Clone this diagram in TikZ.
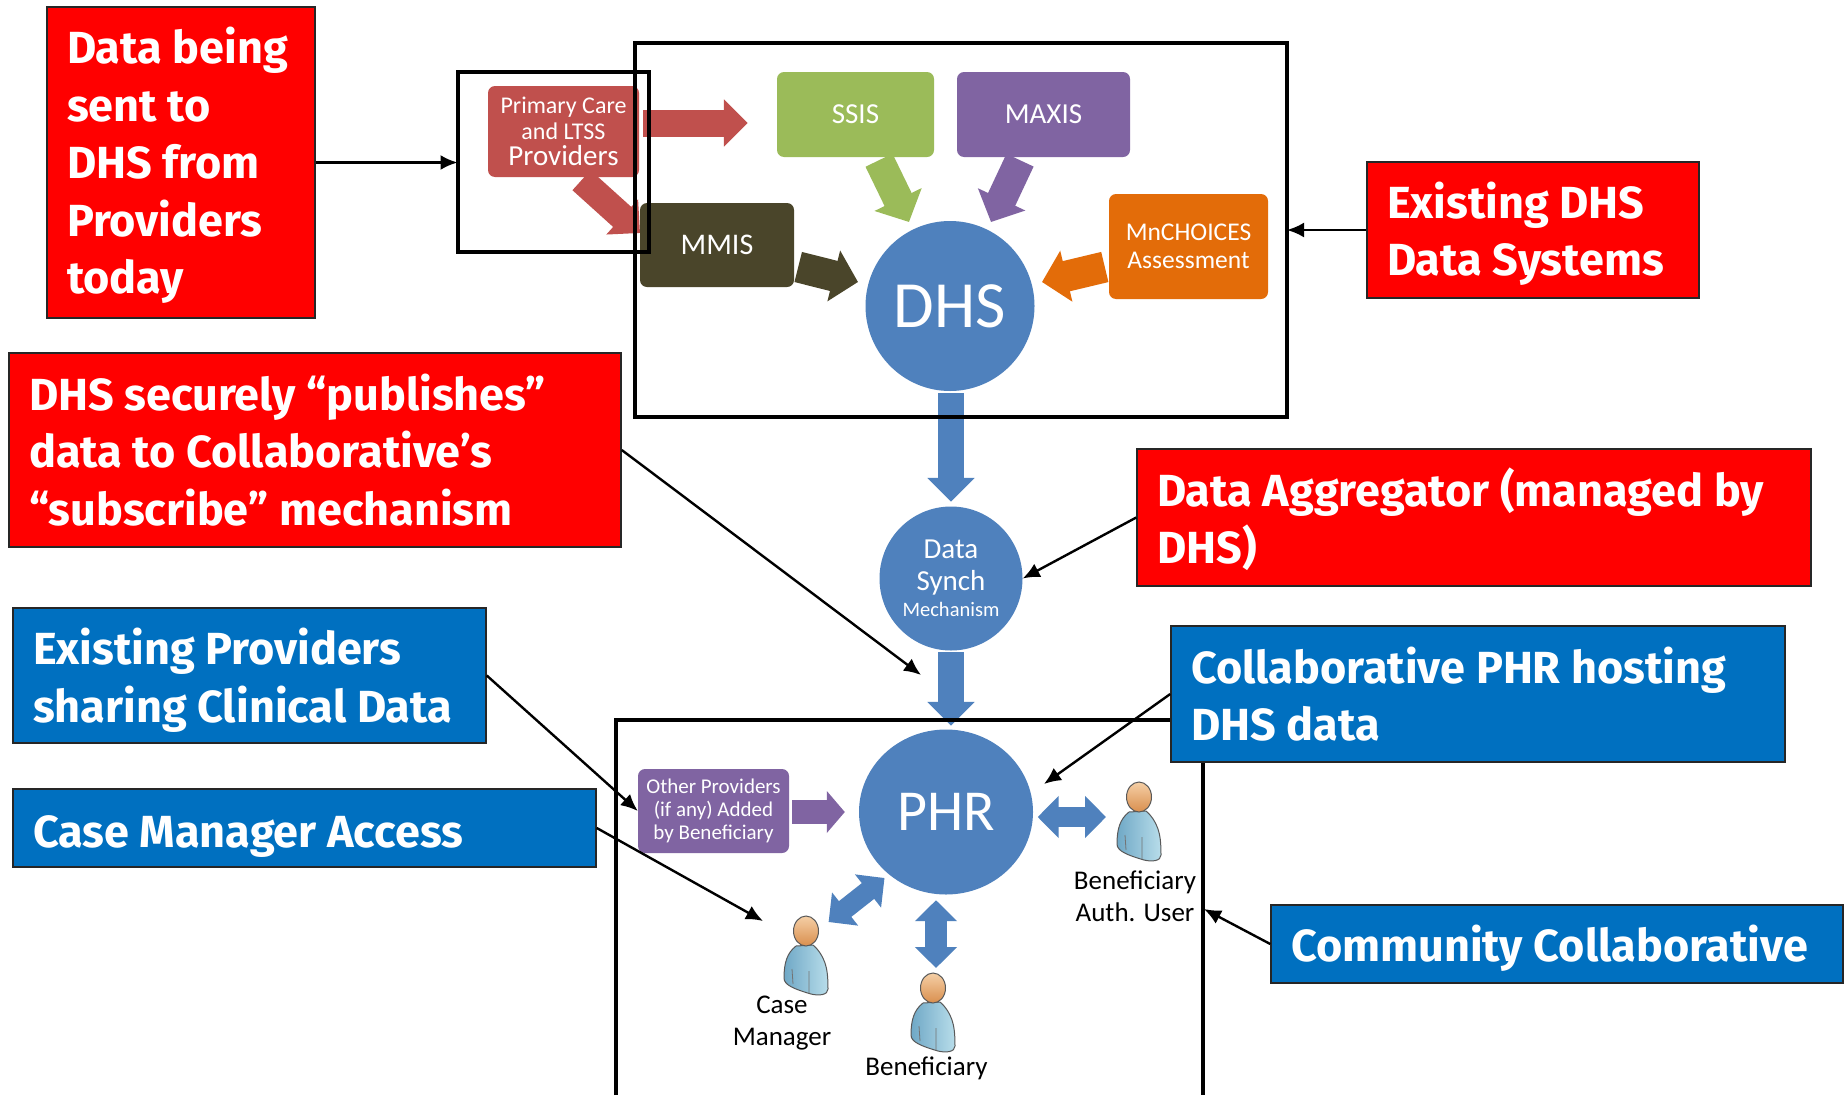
\documentclass[tikz,border=0pt]{standalone}
\usepackage{fontspec}
\setmainfont{Carlito}
\newfontfamily\bigfont{Fira Sans}
\usetikzlibrary{arrows.meta,shapes.geometric,calc}
\newcommand\fsz[2]{\fontsize{#1pt}{#2pt}\selectfont}
\newcommand\bigstyle{\bigfont\bfseries\fsz{45}{57.5}\hyphenpenalty=10000\relax\exhyphenpenalty=10000\relax}
\newcommand\dropby[1]{\rule{0pt}{#1pt}}
\definecolor{cred}{HTML}{C0504D}
\definecolor{cgreen}{HTML}{9BBB59}
\definecolor{cpurple}{HTML}{8064A2}
\definecolor{colive}{HTML}{4A452A}
\definecolor{corange}{HTML}{E36C09}
\definecolor{cblue}{HTML}{4F81BD}
\definecolor{lblue}{HTML}{0070C0}
\definecolor{bodydark}{HTML}{6FA8C6}
\definecolor{bodylight}{HTML}{B8DDEA}
\definecolor{headlight}{HTML}{F5CFA6}
\definecolor{headdark}{HTML}{D98F4E}
\tikzset{
  sbox/.style={rounded corners=7pt,inner sep=0pt,text=white,align=center},
  disc/.style={ellipse,fill=cblue,inner sep=0pt,text=white,align=center},
  label box/.style={draw=black!85,line width=1.5pt,inner sep=0pt,text=white,align=flush left,
     font=\bigstyle},
  redlab/.style={label box,fill=red},
  bluelab/.style={label box,fill=lblue},
  fat/.style={line width=#1,line cap=butt},
  tip/.style={-{Triangle[length=24pt,width=46pt]}},
  widetip/.style={-{Triangle[length=25pt,width=51pt]}},
  twotip/.style={{Triangle[length=21pt,width=41pt]}-{Triangle[length=21pt,width=41pt]}},
  zone/.style={draw=black,line width=4pt},
  pointer/.style={draw=black,line width=2.4pt,-{Latex[length=17pt,width=15pt]}},
  ptext/.style={text=black,align=center,inner sep=0pt,font=\fsz{27}{31.5}},
}
\newcommand\person[3]{%
  \coordinate (#1) at (#2,#3);
  \begin{scope}[shift={(#2,#3)}]
    \path[draw=black!65,line width=1pt,left color=bodydark,right color=bodylight]
      (-10,15) .. controls (-19,22) and (-22,32) .. (-22,47)
      .. controls (-22,54) and (-12,58) .. (5,63)
      .. controls (13,65) and (22,64) .. (22,58)
      .. controls (22,45) and (21,38) .. (19,32)
      .. controls (16,24) and (12,18) .. (7,14) -- cycle;
    \draw[black!55,line width=.8pt] (-14,38) -- (-13,53) (3,40) -- (3,62);
    \path[draw=black!65,line width=1pt,top color=headlight,bottom color=headdark]
      (0,0) ellipse [x radius=12.5,y radius=15];
  \end{scope}}
\begin{document}
\begin{tikzpicture}[x=1pt,y=-1pt]
\useasboundingbox[fill=white] (0,0) rectangle (1844,1095);
% upper nodes
\node[sbox,fill=cred,minimum width=151pt,minimum height=91pt,font=\fsz{24}{26}] (prov) at (563.5,131.5)
   {Primary Care\\and LTSS\\{\fsz{29}{30}Providers}};
\node[sbox,fill=cgreen,minimum width=157pt,minimum height=85pt,font=\fsz{29}{30}] (ssis) at (855.5,114.5) {SSIS};
\node[sbox,fill=cpurple,minimum width=173pt,minimum height=85pt,font=\fsz{29}{30}] (maxis) at (1043.5,114.5) {MAXIS};
\node[disc,minimum width=169pt,minimum height=170pt,font=\fsz{66}{70}] (dhs) at (950,306) {DHS};
\coordinate (redtip) at (640,233);
\draw[fat=27pt,cred,tip] ([shift={(4,-8.5)}]prov.east) -- ([shift={(-29,8.5)}]ssis.west);
\draw[fat=27pt,cred,tip] ([shift={(18,3)}]prov.south) -- (redtip);
\node[sbox,fill=colive,minimum width=154pt,minimum height=84pt,font=\fsz{30}{30}] (mmis) at (717,245) {MMIS};
\node[sbox,fill=corange,minimum width=159pt,minimum height=105pt,font=\fsz{25.5}{28}] (mnc) at (1188.5,246.5) {MnCHOICES\\Assessment};
\draw[fat=30pt,cgreen,widetip] ([shift={(23.5,3)}]ssis.south) -- ([shift={(-41,-84)}]dhs.center);
\draw[fat=30pt,cpurple,widetip] ([shift={(-23.5,3)}]maxis.south) -- ([shift={(41,-84)}]dhs.center);
\draw[fat=31pt,colive,widetip] ([shift={(4,22)}]mmis.east) -- ([shift={(-92,-24)}]dhs.center);
\draw[fat=31pt,corange,widetip] ([shift={(-4,20.5)}]mnc.west) -- ([shift={(92,-24)}]dhs.center);
% middle and lower nodes
\node[disc,minimum width=143pt,minimum height=144pt,font=\fsz{29}{32}] (sync) at (951,578.5)
   {Data\\Synch\\[-6pt]{\fsz{20.5}{22}Mechanism}};
\node[disc,minimum width=174pt,minimum height=165pt,font=\fsz{58}{62}] (phr) at (946,812) {PHR};
\node[sbox,fill=cpurple,minimum width=151pt,minimum height=84pt,font=\fsz{21}{23}] (other) at (713.5,811)
   {Other Providers\\(if any) Added\\by Beneficiary};
\draw[fat=26pt,cblue,tip] ([shift={(1,2)}]dhs.south) -- ([shift={(0,-4.5)}]sync.north);
\draw[fat=26pt,cblue,tip] ([shift={(0,1.5)}]sync.south) -- ([shift={(5,-3.5)}]phr.north);
\draw[fat=24pt,cpurple,-{Triangle[length=18pt,width=41pt]}] ([shift={(3,1)}]other.east) -- ([shift={(-14,0)}]phr.west);
% people
\person{auth}{1139}{797}
\person{casem}{806}{931}
\person{benef}{933}{988}
\node[ptext] (authlabel) at (1135,896.5) {Beneficiary\\Auth. User};
\node[ptext] (caselabel) at (782,1023) {Case\\Manager};
\node[ptext] (beneflabel) at (926.5,1068) {Beneficiary};
\draw[fat=20pt,cblue,twotip] ([shift={(4.5,5)}]phr.east) -- ([shift={(-33,20)}]auth);
\draw[fat=22pt,cblue,twotip] ([shift={(-10,5.5)}]phr.south) -- ([shift={(3,-20)}]benef);
\draw[fat=20pt,cblue,twotip] ([shift={(-61.5,66)}]phr.center) -- ([shift={(22.6,-9)}]casem);
% outlined regions
\draw[zone] (635,43) rectangle (1287,417);
\draw[zone] (457.5,72) rectangle (649,252);
\draw[zone] (615.5,1095) -- (615.5,720) -- (1203,720) -- (1203,1095);
% labels
\node[redlab,minimum width=268pt,minimum height=311pt,text width=228pt] (l1) at (181,162.5)
  {\dropby{42}Data being\\sent to\\DHS from\\Providers\\today};
\node[redlab,minimum width=332pt,minimum height=136pt,text width=292pt] (l2) at (1533,230)
  {\dropby{44}Existing DHS\\Data Systems};
\node[redlab,minimum width=612pt,minimum height=194pt,text width=572pt] (l3) at (315,450)
  {DHS securely “publishes”\\data to Collaborative’s\\“subscribe” mechanism};
\node[redlab,minimum width=674pt,minimum height=137pt,text width=634pt] (l4) at (1474,517.5)
  {\dropby{42}Data Aggregator (managed by\\DHS)};
\node[bluelab,minimum width=473pt,minimum height=135pt,text width=433pt] (l5) at (249.5,675.5)
  {\dropby{46}Existing Providers\\sharing Clinical Data};
\node[bluelab,minimum width=583pt,minimum height=78pt,text width=543pt] (l6) at (304.5,828)
  {\dropby{48}Case Manager Access};
\node[bluelab,minimum width=614pt,minimum height=136pt,text width=574pt] (l7) at (1478,694)
  {Collaborative PHR hosting\\DHS data};
\node[bluelab,minimum width=572pt,minimum height=78pt,text width=532pt] (l8) at (1557,944)
  {\dropby{44}Community Collaborative};
% pointers
\coordinate (publishtip) at (921,675);
\coordinate (casetip) at (763,921);
\coordinate (collabtip) at (1044,784);
\coordinate (zonetip) at (1204,909);
\draw[pointer] (l1.east) -- (457.5,162.5);
\draw[pointer] (l2.west) -- (1287,230);
\draw[pointer] (l3.east) -- (publishtip);
\draw[pointer] (l4.west) -- (sync.east);
\draw[pointer] (l5.east) -- (other.west);
\draw[pointer] (l6.east) -- (casetip);
\draw[pointer] (l7.west) -- (collabtip);
\draw[pointer] (l8.west) -- (zonetip);
\end{tikzpicture}
\end{document}
